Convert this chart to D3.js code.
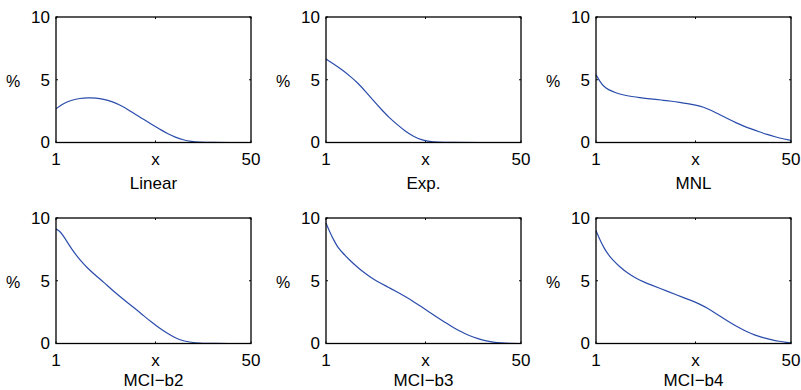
<!DOCTYPE html>
<html>
<head>
<meta charset="utf-8">
<style>
  body { margin: 0; background: #fff; }
  text { font-family: "Liberation Sans", Arial, sans-serif; fill: #000; }
</style>
</head>
<body>
<svg width="801" height="390"></svg>
<script src="https://d3js.org/d3.v7.min.js"></script>
<script>

// panel titles, in reading order
var titles = ["Linear", "Exp.", "MNL", "MCI\u2212b2", "MCI\u2212b3", "MCI\u2212b4"];

// axis ticks
var xTicks = [1, 26, 50],
    xTickLabels = ["1", "x", "50"],
    yTicks = [0, 5, 10];

// curves, [x, %]
var linear = [[1,2.68],[3,3.15],[5,3.38],[7,3.52],[9,3.57],[11,3.56],[13,3.45],[15,3.27],[17,3.0],[19,2.65],
  [21,2.22],[23,1.85],[25,1.45],[27,1.08],[29,0.7],[31,0.42],[33,0.2],[35,0.08],[37,0.03],[40,0],[45,0],[50,0]];

var expo = [[1,6.65],[3,6.25],[5,5.8],[7,5.3],[9,4.75],[11,4.05],[13,3.3],[15,2.6],[17,1.95],[19,1.4],
  [21,0.88],[23,0.48],[25,0.2],[27,0.07],[29,0.02],[32,0],[40,0],[50,0]];

var mnl = [[1,5.4],[2,4.85],[3,4.45],[4,4.22],[6,3.95],[8,3.77],[10,3.66],[12,3.57],[14,3.5],[16,3.44],
  [18,3.36],[20,3.29],[22,3.2],[24,3.1],[26,2.98],[28,2.83],[30,2.56],[32,2.23],[34,1.92],[36,1.6],
  [38,1.32],[40,1.08],[42,0.85],[44,0.64],[46,0.45],[48,0.3],[50,0.16]];

var mciB2 = [[1,9.12],[2,8.95],[3,8.5],[4,8.0],[5,7.5],[7,6.65],[9,5.98],[11,5.42],[13,4.88],[15,4.3],
  [17,3.77],[19,3.25],[21,2.75],[23,2.22],[25,1.7],[27,1.22],[29,0.8],[31,0.43],[33,0.2],[35,0.09],
  [37,0.03],[40,0],[50,0]];

var mciB3 = [[1,9.6],[2,8.85],[3,8.2],[4,7.65],[5,7.28],[7,6.62],[9,6.05],[11,5.55],[13,5.1],[15,4.76],
  [17,4.42],[19,4.08],[21,3.72],[23,3.34],[25,2.92],[27,2.5],[29,2.07],[31,1.67],[33,1.27],[35,0.92],
  [37,0.63],[39,0.4],[41,0.22],[43,0.1],[45,0.04],[47,0.01],[50,0]];

var mciB4 = [[1,9.0],[2,8.25],[3,7.62],[4,7.12],[5,6.72],[7,6.1],[9,5.6],[11,5.2],[13,4.9],[15,4.65],
  [17,4.4],[19,4.15],[21,3.9],[23,3.66],[25,3.42],[27,3.15],[29,2.82],[31,2.42],[33,2.0],[35,1.6],
  [37,1.25],[39,0.92],[41,0.66],[43,0.46],[45,0.3],[47,0.17],[49,0.08],[50,0.05]];

var series = [linear, expo, mnl, mciB2, mciB3, mciB4];

var svg = d3.select("svg"),
    colLeft = [56, 326, 596],
    rowTop = [17, 218],
    titleY = [171.5, 167.5],   // title baseline below the box, per row (bottom row squeezed by the page edge)
    pw = 195,
    ph = 125.5;

var x = d3.scaleLinear().domain([1, 50]).range([0, pw]);
var y = d3.scaleLinear().domain([0, 10]).range([ph, 0]);

var line = d3.line()
    .curve(d3.curveBasis)
    .x(function(d) { return x(d[0]); })
    .y(function(d) { return y(d[1]); });

series.forEach(function(data, i) {
  var row = Math.floor(i / 3);
  var g = svg.append("g")
      .attr("transform", "translate(" + colLeft[i % 3] + "," + rowTop[row] + ")");

  // inward ticks on all four sides, matlab style
  var tl = 2;
  g.selectAll(".xt").data(xTicks).enter().append("path")
      .attr("stroke", "#000").attr("stroke-width", 1)
      .attr("d", function(d) { var px = x(d); return "M" + px + "," + ph + "v" + (-tl) + "M" + px + ",0v" + tl; });
  g.selectAll(".yt").data(yTicks).enter().append("path")
      .attr("stroke", "#000").attr("stroke-width", 1)
      .attr("d", function(d) { var py = y(d); return "M0," + py + "h" + tl + "M" + pw + "," + py + "h" + (-tl); });

  g.append("path")
      .datum(data)
      .attr("fill", "none")
      .attr("stroke", "#2a4cab")
      .attr("stroke-width", 1.2)
      .attr("stroke-linejoin", "round")
      .attr("d", line);

  g.append("rect")
      .attr("width", pw).attr("height", ph)
      .attr("fill", "none")
      .attr("stroke", "#000")
      .attr("stroke-width", 1.3);

  g.selectAll(".xl").data(xTicks).enter().append("text")
      .attr("x", function(d) { return x(d); })
      .attr("y", ph + 22)
      .attr("text-anchor", "middle")
      .attr("font-size", "17px")
      .text(function(d, j) { return xTickLabels[j]; });

  g.selectAll(".yl").data(yTicks).enter().append("text")
      .attr("x", -6)
      .attr("y", function(d) { return y(d); })
      .attr("dy", "0.35em")
      .attr("text-anchor", "end")
      .attr("font-size", "17px")
      .text(function(d) { return d; });

  g.append("text")
      .attr("x", -43)
      .attr("y", y(5) + 2)
      .attr("dy", "0.35em")
      .attr("text-anchor", "middle")
      .attr("font-size", "16px")
      .text("%");

  g.append("text")
      .attr("x", pw / 2)
      .attr("y", titleY[row])
      .attr("text-anchor", "middle")
      .attr("font-size", "17px")
      .text(titles[i]);
});

</script>
</body>
</html>
